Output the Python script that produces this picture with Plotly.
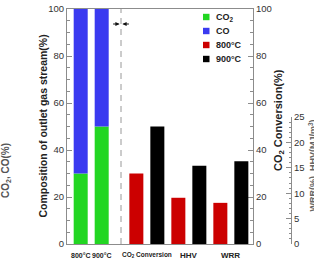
import plotly.graph_objects as go

# ---------------- data ----------------
comp_labels = ["800°C", "900°C"]
comp_x = [1, 2]
co2_pct = [30, 50]
co_pct = [70, 50]

metric_labels = ["CO<sub>2</sub> Conversion", "HHV", "WRR"]
metric_centers = [4.15, 6.15, 8.15]
conv_800 = [30]          # CO2 conversion (%), right axis 0-100
conv_900 = [50]
aux_800 = [9.1, 8.1]     # HHV, WRR on third axis (0-25)
aux_900 = [15.4, 16.3]

legend_names = ["CO<sub>2</sub>", "CO", "800°C", "900°C"]
GREEN, BLUE, RED, BLACK = "#22d622", "#3a3af0", "#cc0000", "#000000"
legend_colors = [GREEN, BLUE, RED, BLACK]

# ---------------- geometry helpers ----------------
W, H = 314, 264
L, R, T, B = 67, 0, 9, 20
PW, PH = W - L - R, H - T - B
def px(x):
    return (x - L) / PW
def py(y):
    return (H - B - y) / PH

FONT = "Liberation Sans, Arial, sans-serif"
AX = "#8c8c8c"
BW = 0.667

fig = go.Figure()
fig.add_trace(go.Bar(x=comp_x, y=co2_pct, width=BW, marker_color=GREEN,
                     marker_line_width=0, showlegend=False, yaxis="y"))
fig.add_trace(go.Bar(x=comp_x, y=co_pct, base=co2_pct, width=BW, marker_color=BLUE,
                     marker_line_width=0, showlegend=False, yaxis="y"))
fig.add_trace(go.Bar(x=[metric_centers[0] - 0.5], y=conv_800, width=BW, marker_color=RED,
                     marker_line_width=0, showlegend=False, yaxis="y2"))
fig.add_trace(go.Bar(x=[metric_centers[0] + 0.5], y=conv_900, width=BW, marker_color=BLACK,
                     marker_line_width=0, showlegend=False, yaxis="y2"))
fig.add_trace(go.Bar(x=[c - 0.5 for c in metric_centers[1:]], y=aux_800, width=BW,
                     marker_color=RED, marker_line_width=0, showlegend=False, yaxis="y3"))
fig.add_trace(go.Bar(x=[c + 0.5 for c in metric_centers[1:]], y=aux_900, width=BW,
                     marker_color=BLACK, marker_line_width=0, showlegend=False, yaxis="y3"))

tickfont = dict(family=FONT, size=9.5, color="#333333")
common_y = dict(showgrid=False, zeroline=False, showline=True, linecolor=AX, linewidth=1,
                ticks="inside", tickcolor=AX, ticklen=5, tickwidth=1, tickfont=tickfont)

xdom = (253 - L) / PW
fig.update_layout(
    width=W, height=H, margin=dict(l=L, r=R, t=T, b=B),
    paper_bgcolor="white", plot_bgcolor="rgba(0,0,0,0)", barmode="overlay",
    showlegend=False,
    xaxis=dict(domain=[0, xdom], range=[0.348, 9.205], showgrid=False, zeroline=False,
               showline=True, linecolor=AX, mirror=True, showticklabels=False, ticks=""),
    yaxis=dict(range=[0, 100], tickvals=[0, 20, 40, 60, 80, 100],
               minor=dict(dtick=5, ticks="inside", ticklen=3, tickcolor=AX),
               **common_y),
    yaxis2=dict(range=[0, 100], tickvals=[0, 20, 40, 60, 80, 100], overlaying="y",
                side="right", anchor="x",
                minor=dict(dtick=5, ticks="inside", ticklen=3, tickcolor=AX),
                **common_y),
    yaxis3=dict(range=[0, 25], domain=[0, py(117)], anchor="free", position=px(291),
                side="right", tickvals=[0, 5, 10, 15, 20, 25],
                minor=dict(dtick=1, ticks="inside", ticklen=2, tickcolor=AX),
                **common_y),
)

# separator dashed line
fig.add_shape(type="line", xref="x", yref="paper", x0=2.92, x1=2.92, y0=0, y1=1,
              line=dict(color="#aaaaaa", width=1.2, dash="6px,5px"))
# inward arrows
for head, ax in [(119.6, -8), (122.4, 8)]:
    fig.add_annotation(xref="paper", yref="paper", x=px(head), y=py(24), ax=ax, ay=0,
                       text="", showarrow=True, arrowhead=2, arrowsize=0.7,
                       arrowwidth=1.2, arrowcolor="#111111")

# x labels
xlab = list(zip(comp_x, comp_labels, [7, 7])) + \
       list(zip(metric_centers, metric_labels, [6.5, 8, 8]))
for xv, txt, fs in xlab:
    fig.add_annotation(xref="x", yref="paper", x=xv, y=py(255), text="<b>" + txt + "</b>",
                       showarrow=False, yanchor="middle", xanchor="center",
                       font=dict(family=FONT, size=fs, color="#222222"))

def vtitle(xpix, ypix, txt, size, color):
    fig.add_annotation(xref="paper", yref="paper", x=px(xpix), y=py(ypix),
                       xanchor="center", yanchor="middle",
                       text="<b>" + txt + "</b>", textangle=-90, showarrow=False,
                       font=dict(family=FONT, size=size, color=color))

# axis titles
vtitle(42, 126.5, "Composition of outlet gas stream(%)", 10.5, "#222222")
vtitle(279, 120, "CO<sub>2</sub> Conversion(%)", 11, "#222222")
vtitle(6, 171, "CO<sub>2</sub>, CO(%)", 10, "#555555")
vtitle(312.5, 166, "WRR(%), HHV(MJ/m<sup>3</sup>)", 9, "#666666")

# legend
rows = [17, 31, 45, 59]
for yy, name, col in zip(rows, legend_names, legend_colors):
    fig.add_shape(type="rect", xref="paper", yref="paper",
                  x0=px(203), x1=px(209.5), y0=py(yy + 3.2), y1=py(yy - 3.2),
                  fillcolor=col, line_width=0)
    fig.add_annotation(xref="paper", yref="paper", x=px(213.5), y=py(yy),
                       text="<b>" + name + "</b>", showarrow=False, xanchor="left",
                       yanchor="middle", font=dict(family=FONT, size=9, color="#222222"))

fig.write_html("out.html")
